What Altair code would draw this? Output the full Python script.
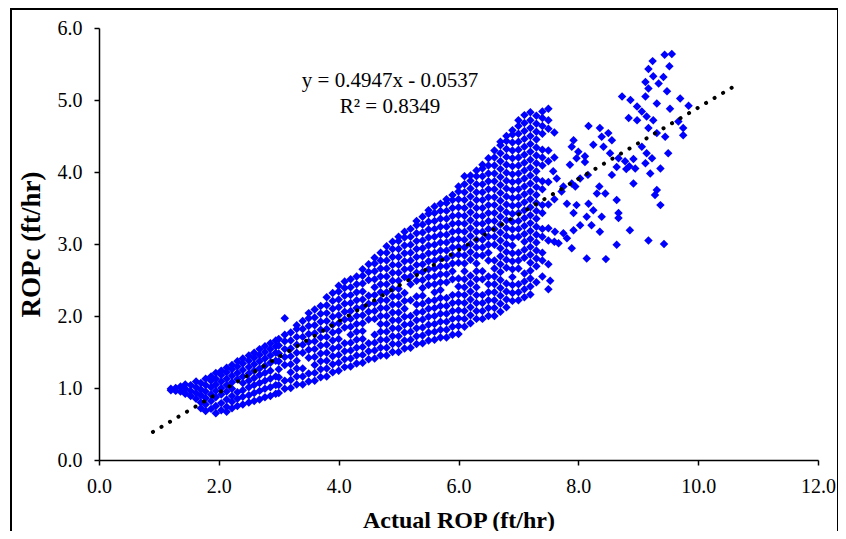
import altair as alt
import pandas as pd

# ---- data -----------------------------------------------------------------
# dense band: one entry per Actual-ROP column, with the ROPc values seen there
BAND_ACTUAL = [
    1.20, 1.28, 1.36, 1.44, 1.53, 1.62, 1.70, 1.78, 1.87, 1.95,
    2.04, 2.13, 2.22, 2.31, 2.40, 2.50, 2.59, 2.68, 2.77, 2.86, 2.95,
    3.0, 3.1, 3.2, 3.3, 3.4, 3.5, 3.6, 3.7, 3.8, 3.9,
    4.0, 4.1, 4.2, 4.3, 4.4, 4.5, 4.6, 4.7, 4.8, 4.9,
    5.0, 5.1, 5.2, 5.3, 5.4, 5.5, 5.6, 5.7, 5.8, 5.9,
    6.0, 6.1, 6.2, 6.3, 6.4, 6.5, 6.6, 6.7, 6.8, 6.9,
    7.0, 7.1, 7.2, 7.3, 7.4, 7.5, 7.6,
]
BAND_ROPC = [
    [0.97, 0.99],
    [0.96, 1.00],
    [0.95, 1.02],
    [0.92, 0.99, 1.05],
    [0.89, 0.96, 1.04],
    [0.85, 0.93, 1.01, 1.09],
    [0.72, 0.80, 0.90, 0.98, 1.07],
    [0.68, 0.77, 0.86, 0.95, 1.04, 1.13],
    [0.71, 0.82, 0.91, 1.01, 1.10, 1.16],
    [0.65, 0.75, 0.87, 0.96, 1.05, 1.13, 1.21],
    [0.69, 0.79, 0.91, 1.00, 1.09, 1.18, 1.24],
    [0.67, 0.74, 0.84, 0.95, 1.04, 1.13, 1.22, 1.28],
    [0.72, 0.81, 0.89, 0.99, 1.08, 1.17, 1.26, 1.32],
    [0.75, 0.85, 0.94, 1.12, 1.21, 1.30, 1.37],
    [0.77, 0.88, 0.97, 1.07, 1.16, 1.25, 1.34, 1.41],
    [0.80, 0.90, 1.01, 1.10, 1.20, 1.29, 1.38, 1.45],
    [0.82, 0.93, 1.04, 1.14, 1.24, 1.33, 1.42, 1.49],
    [0.84, 0.96, 1.07, 1.18, 1.27, 1.37, 1.46, 1.54],
    [0.87, 0.99, 1.10, 1.21, 1.31, 1.41, 1.50, 1.58],
    [0.89, 1.01, 1.13, 1.24, 1.35, 1.45, 1.54, 1.62],
    [0.92, 1.04, 1.16, 1.38, 1.49, 1.58, 1.66],
    [0.93, 1.04, 1.15, 1.26, 1.37, 1.48, 1.59, 1.68],
    [0.99, 1.10, 1.32, 1.43, 1.54, 1.65, 1.74, 1.97],
    [1.00, 1.11, 1.22, 1.33, 1.44, 1.55, 1.66, 1.77],
    [1.05, 1.16, 1.27, 1.38, 1.49, 1.60, 1.71, 1.82, 1.87],
    [1.05, 1.16, 1.27, 1.49, 1.60, 1.71, 1.82, 1.93],
    [1.09, 1.20, 1.42, 1.53, 1.64, 1.75, 1.86, 1.97, 2.04],
    [1.10, 1.21, 1.32, 1.43, 1.54, 1.65, 1.76, 1.87, 1.98, 2.09],
    [1.15, 1.26, 1.37, 1.48, 1.59, 1.70, 1.81, 1.92, 2.03, 2.14],
    [1.16, 1.27, 1.38, 1.49, 1.60, 1.71, 1.82, 1.93, 2.04, 2.15, 2.26],
    [1.22, 1.33, 1.44, 1.55, 1.66, 1.77, 1.88, 1.99, 2.10, 2.21, 2.32],
    [1.24, 1.35, 1.46, 1.57, 1.68, 1.79, 1.90, 2.01, 2.12, 2.23, 2.34, 2.42],
    [1.29, 1.40, 1.51, 1.62, 1.84, 1.95, 2.06, 2.17, 2.28, 2.39, 2.48],
    [1.30, 1.41, 1.52, 1.63, 1.74, 1.85, 1.96, 2.07, 2.18, 2.29, 2.40, 2.51],
    [1.34, 1.45, 1.56, 1.67, 1.78, 1.89, 2.00, 2.11, 2.22, 2.33, 2.44, 2.55],
    [1.35, 1.46, 1.57, 1.68, 1.79, 1.90, 2.01, 2.12, 2.23, 2.34, 2.45, 2.56, 2.65],
    [1.40, 1.51, 1.62, 1.95, 2.06, 2.17, 2.28, 2.50, 2.61, 2.72],
    [1.41, 1.52, 1.63, 1.74, 1.96, 2.07, 2.18, 2.29, 2.40, 2.51, 2.62, 2.73, 2.81],
    [1.45, 1.56, 1.67, 1.78, 1.89, 2.00, 2.11, 2.22, 2.33, 2.44, 2.55, 2.66, 2.77, 2.88],
    [1.45, 1.56, 1.67, 1.78, 1.89, 2.00, 2.11, 2.22, 2.33, 2.44, 2.55, 2.66, 2.77, 2.88, 2.97],
    [1.50, 1.61, 1.72, 1.83, 1.94, 2.05, 2.16, 2.27, 2.38, 2.49, 2.60, 2.71, 2.82, 2.93, 3.03],
    [1.50, 1.61, 1.72, 1.83, 1.94, 2.05, 2.16, 2.27, 2.38, 2.49, 2.60, 2.71, 2.82, 2.93, 3.04, 3.10],
    [1.55, 1.66, 1.77, 1.88, 1.99, 2.10, 2.21, 2.32, 2.54, 2.65, 2.76, 2.87, 2.98, 3.09, 3.17],
    [1.56, 1.67, 1.78, 1.89, 2.00, 2.22, 2.44, 2.55, 2.66, 2.77, 2.88, 2.99, 3.10, 3.21],
    [1.61, 1.72, 1.83, 1.94, 2.05, 2.16, 2.27, 2.49, 2.60, 2.71, 2.82, 2.93, 3.04, 3.15, 3.26, 3.32],
    [1.62, 1.73, 1.84, 1.95, 2.06, 2.17, 2.28, 2.39, 2.50, 2.61, 2.72, 2.83, 2.94, 3.05, 3.16, 3.27, 3.38],
    [1.66, 1.77, 1.88, 1.99, 2.10, 2.21, 2.43, 2.54, 2.65, 2.76, 2.87, 2.98, 3.09, 3.20, 3.31, 3.42, 3.47],
    [1.67, 1.78, 1.89, 2.00, 2.11, 2.22, 2.33, 2.44, 2.55, 2.66, 2.77, 2.88, 2.99, 3.10, 3.21, 3.32, 3.43, 3.52],
    [1.70, 1.81, 1.92, 2.03, 2.14, 2.25, 2.36, 2.47, 2.58, 2.69, 2.80, 2.91, 3.02, 3.13, 3.24, 3.35, 3.46, 3.56],
    [1.70, 1.81, 1.92, 2.03, 2.14, 2.25, 2.47, 2.58, 2.69, 2.80, 2.91, 3.02, 3.13, 3.24, 3.35, 3.46, 3.57, 3.62],
    [1.74, 1.85, 1.96, 2.07, 2.18, 2.29, 2.51, 2.62, 2.73, 2.84, 2.95, 3.06, 3.17, 3.28, 3.39, 3.50, 3.61, 3.68],
    [1.75, 1.86, 1.97, 2.08, 2.19, 2.30, 2.41, 2.52, 2.74, 2.85, 2.96, 3.07, 3.18, 3.29, 3.40, 3.51, 3.62, 3.73, 3.80],
    [1.85, 1.96, 2.07, 2.18, 2.29, 2.40, 2.51, 2.62, 2.73, 2.84, 2.95, 3.06, 3.17, 3.28, 3.39, 3.50, 3.61, 3.72, 3.83, 3.94],
    [1.90, 2.01, 2.12, 2.23, 2.34, 2.45, 2.56, 2.78, 2.89, 3.00, 3.11, 3.22, 3.33, 3.44, 3.55, 3.66, 3.77, 3.88, 3.95],
    [1.96, 2.07, 2.18, 2.29, 2.40, 2.51, 2.62, 2.73, 2.84, 2.95, 3.06, 3.17, 3.28, 3.39, 3.50, 3.61, 3.72, 3.83, 3.94, 4.02],
    [1.96, 2.07, 2.18, 2.29, 2.51, 2.62, 2.84, 2.95, 3.06, 3.17, 3.28, 3.39, 3.50, 3.61, 3.72, 3.83, 3.94, 4.05, 4.10],
    [2.00, 2.11, 2.22, 2.33, 2.44, 2.55, 2.77, 2.88, 2.99, 3.10, 3.21, 3.32, 3.43, 3.54, 3.65, 3.76, 3.87, 3.98, 4.09, 4.19],
    [2.00, 2.11, 2.22, 2.33, 2.44, 2.55, 2.66, 2.77, 2.99, 3.10, 3.21, 3.32, 3.43, 3.54, 3.65, 3.76, 3.87, 3.98, 4.09, 4.20, 4.30],
    [2.06, 2.17, 2.28, 2.39, 2.50, 2.61, 2.72, 2.83, 2.94, 3.05, 3.16, 3.27, 3.38, 3.49, 3.60, 3.71, 3.82, 3.93, 4.04, 4.15, 4.26, 4.37, 4.42],
    [2.12, 2.23, 2.34, 2.45, 2.67, 2.78, 2.89, 3.00, 3.11, 3.22, 3.33, 3.44, 3.55, 3.66, 3.77, 3.88, 3.99, 4.10, 4.21, 4.32, 4.43, 4.50],
    [2.21, 2.32, 2.43, 2.54, 2.65, 2.76, 2.87, 2.98, 3.09, 3.20, 3.31, 3.42, 3.53, 3.64, 3.75, 3.86, 3.97, 4.08, 4.19, 4.30, 4.41, 4.52, 4.58],
    [2.22, 2.33, 2.44, 2.66, 2.77, 2.88, 3.10, 3.21, 3.32, 3.43, 3.54, 3.65, 3.76, 3.87, 3.98, 4.09, 4.20, 4.31, 4.42, 4.53, 4.64, 4.72],
    [2.26, 2.37, 2.48, 2.59, 2.81, 2.92, 3.03, 3.14, 3.25, 3.36, 3.47, 3.58, 3.69, 3.80, 3.91, 4.02, 4.13, 4.24, 4.35, 4.46, 4.57, 4.68, 4.79],
    [2.30, 2.41, 2.52, 2.63, 2.74, 2.85, 2.96, 3.07, 3.18, 3.29, 3.40, 3.51, 3.62, 3.73, 3.84, 3.95, 4.06, 4.17, 4.28, 4.39, 4.50, 4.61, 4.72, 4.83],
    [2.47, 2.69, 2.80, 2.91, 3.02, 3.13, 3.24, 3.35, 3.46, 3.57, 3.68, 3.79, 3.90, 4.01, 4.12, 4.23, 4.34, 4.45, 4.56, 4.67, 4.78],
    [2.55, 2.77, 2.88, 3.10, 3.21, 3.43, 3.54, 3.76, 3.87, 4.09, 4.20, 4.31, 4.53, 4.64, 4.75, 4.84],
    [2.72, 3.05, 3.22, 3.55, 3.86, 4.15, 4.30, 4.60, 4.72, 4.88],
    [3.03, 3.62, 4.20, 4.55],
]

# scattered points on the right-hand side
SPARSE_ACTUAL = [
    9.56, 9.44, 9.24, 9.52, 9.17, 9.25, 9.42, 9.12, 9.34, 9.17, 9.48, 8.73, 8.87,
    9.12, 9.31, 9.70, 9.53, 9.84, 8.98, 9.06, 9.14, 8.98, 8.84, 9.25, 9.17, 9.31,
    9.45, 9.75, 9.75, 9.67, 8.17, 8.36, 8.50, 8.56, 8.39, 8.25, 8.42, 8.53, 7.92,
    7.89, 8.00, 8.11, 9.06, 9.14, 9.23, 9.12, 9.50, 8.78, 8.85, 8.92, 8.80, 8.95,
    8.56, 8.67, 8.64, 9.20, 9.37, 8.92, 9.31, 9.28, 9.37, 8.64, 8.67, 8.16, 8.35,
    8.31, 8.45, 7.95, 8.03, 7.75, 7.89, 7.86, 7.97, 8.11, 7.58, 7.64, 7.72, 7.81,
    7.97, 8.17, 8.25, 7.92, 8.14, 8.39, 8.67, 8.22, 8.03, 7.61, 7.75, 7.92, 8.36,
    8.86, 9.17, 9.43, 8.64, 7.89, 8.14, 8.46, 7.67, 7.81, 7.53, 7.50,
]
SPARSE_ROPC = [
    5.64, 5.63, 5.54, 5.47, 5.43, 5.33, 5.32, 5.25, 5.23, 5.16, 5.12, 5.05, 5.00,
    5.05, 4.95, 5.02, 4.88, 4.92, 4.91, 4.84, 4.77, 4.72, 4.75, 4.72, 4.61, 4.54,
    4.49, 4.61, 4.51, 4.70, 4.64, 4.61, 4.54, 4.44, 4.49, 4.38, 4.35, 4.26, 4.44,
    4.35, 4.28, 4.22, 4.35, 4.26, 4.19, 4.12, 4.26, 4.15, 4.08, 4.18, 4.04, 4.05,
    3.96, 4.19, 4.07, 3.98, 4.05, 3.84, 3.75, 3.68, 3.54, 3.61, 3.43, 3.96, 3.80,
    3.70, 3.70, 3.80, 3.91, 3.80, 3.84, 4.10, 4.19, 4.14, 4.01, 3.91, 3.73, 3.56,
    3.54, 3.56, 3.47, 3.43, 3.38, 3.38, 3.36, 3.26, 3.26, 3.17, 3.15, 3.19, 3.17,
    3.19, 3.05, 3.00, 2.99, 2.94, 2.80, 2.79, 3.01, 3.08, 2.49, 2.37,
]

TREND_ACTUAL = [0.90, 10.60]
TREND_ROPC = [0.39, 5.19]

X_TICKS = [0, 2, 4, 6, 8, 10, 12]
Y_TICKS = [0, 1, 2, 3, 4, 5, 6]
EQUATION_LINES = ["y = 0.4947x - 0.0537", "R² = 0.8349"]

# ---- build the table ----------------------------------------------------------
rows = []
for xv, ys in zip(BAND_ACTUAL, BAND_ROPC):
    for yv in ys:
        rows.append({"actual": xv, "ropc": yv})
for xv, yv in zip(SPARSE_ACTUAL, SPARSE_ROPC):
    rows.append({"actual": xv, "ropc": yv})
points_df = pd.DataFrame(rows)
trend_df = pd.DataFrame({"actual": TREND_ACTUAL, "ropc": TREND_ROPC})

FONT = "Liberation Serif"
W, H = 719, 432

x_scale = alt.Scale(domain=[0, 12], nice=False)
y_scale = alt.Scale(domain=[0, 6], nice=False)

x_axis = alt.Axis(
    values=X_TICKS, format=".1f", title="Actual ROP (ft/hr)",
    titleX=W / 2, titleY=67, titleBaseline="alphabetic", titleAlign="center",
    labelPadding=11, labelFlush=False,
)
y_axis = alt.Axis(
    values=Y_TICKS, format=".1f", title="ROPc (ft/hr)",
    titleX=-68, titleY=H / 2, titleAngle=270, titleBaseline="middle",
    titleAlign="center", labelPadding=12, labelFlush=False, titleFontSize=27,
)

points = alt.Chart(points_df).mark_point(
    shape="diamond", filled=True, size=72, color="#0000FF", opacity=1
).encode(
    x=alt.X("actual:Q", scale=x_scale, axis=x_axis),
    y=alt.Y("ropc:Q", scale=y_scale, axis=y_axis),
)

trend = alt.Chart(trend_df).mark_line(
    color="black", strokeWidth=4, strokeDash=[0.1, 9.8], strokeCap="round"
).encode(
    x=alt.X("actual:Q", scale=x_scale),
    y=alt.Y("ropc:Q", scale=y_scale),
)

eq1 = alt.Chart(pd.DataFrame({"t": [EQUATION_LINES[0]]})).mark_text(
    font=FONT, fontSize=21, color="black", align="center", baseline="alphabetic"
).encode(x=alt.value(291), y=alt.value(59), text="t:N")

eq2 = alt.Chart(pd.DataFrame({"t": [EQUATION_LINES[1]]})).mark_text(
    font=FONT, fontSize=21, color="black", align="center", baseline="alphabetic"
).encode(x=alt.value(291), y=alt.value(85), text="t:N")

frame = alt.Chart(pd.DataFrame({"k": [0]})).mark_rect(
    fillOpacity=0, stroke="black", strokeWidth=2
).encode(x=alt.value(-88), x2=alt.value(739), y=alt.value(-19), y2=alt.value(600))

chart = alt.layer(frame, points, trend, eq1, eq2).properties(
    width=W, height=H,
    autosize="none",
    padding={"left": 91, "top": 20, "right": 20, "bottom": 71},
    background="white",
).configure_view(stroke=None).configure_axis(
    grid=False,
    domainColor="black", domainWidth=1.5,
    tickColor="black", tickWidth=1.5, tickSize=5,
    labelFont=FONT, labelFontSize=20, labelColor="black",
    titleFont=FONT, titleFontSize=24, titleFontWeight="bold", titleColor="black",
)

chart.save("out.html", embed_options={"renderer": "svg", "actions": False})
